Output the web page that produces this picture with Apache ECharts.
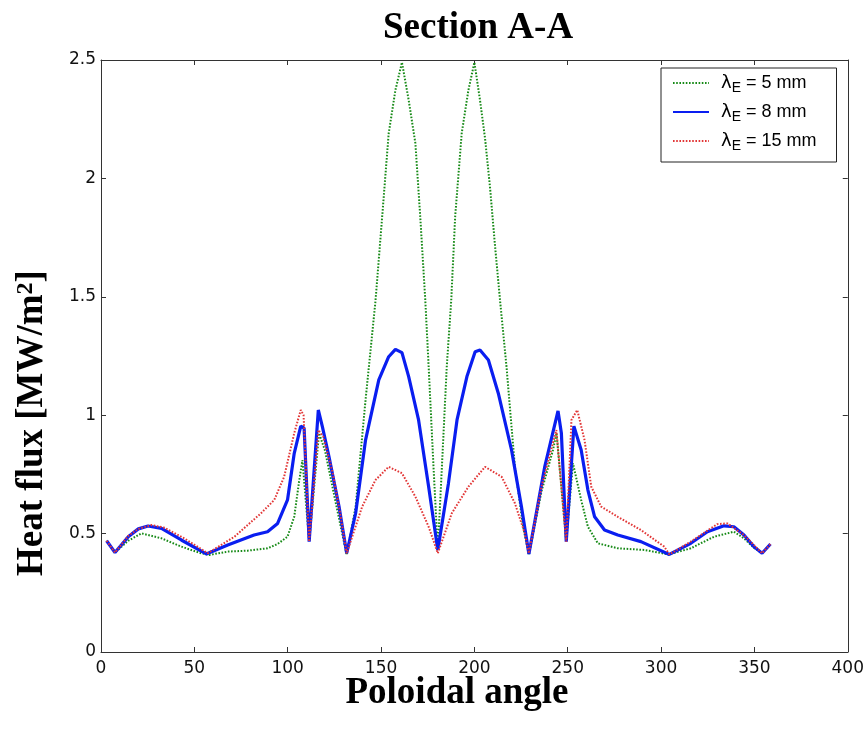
<!DOCTYPE html>
<html>
<head>
<meta charset="utf-8">
<script src="https://cdn.jsdelivr.net/npm/echarts@6/dist/echarts.min.js"></script>
<style>
html,body{margin:0;padding:0;background:#fff;}
#chart{width:867px;height:734px;}
</style>
</head>
<body>
<div id="chart"></div>
<script>
// ---- data ----
const seriesNames = ['λE = 5 mm', 'λE = 8 mm', 'λE = 15 mm'];
const legendTails = [' = 5 mm', ' = 8 mm', ' = 15 mm'];
const xTicks = [0, 50, 100, 150, 200, 250, 300, 350, 400];
const yTicks = [0, 0.5, 1, 1.5, 2, 2.5];

// lambda_E = 5 mm (green dotted)
const angle5 = [3, 7.5, 14.6, 21.7, 32.4, 43, 53.7, 58, 67.9, 78.6, 89.2, 94.6, 99.9, 103.5, 106.1, 107.9, 111.5, 116.8, 120, 126, 131.6, 136.4, 141.7, 147, 150.6, 154.1, 157.7, 161.2, 164.8, 168.4, 171, 173.7, 175.5, 178.1, 180.4, 182.6, 185.2, 187.6, 189.7, 193.2, 196.8, 200, 203, 205.7, 208.4, 211, 213.8, 217.2, 221.7, 226.1, 229.2, 236, 242.1, 244, 249.2, 252.8, 257.2, 260.8, 266.1, 276.8, 291, 304, 315.9, 328.4, 339, 344.4, 349.7, 354.1, 358.6];
const flux5  = [0.47, 0.42, 0.47, 0.501, 0.48, 0.445, 0.417, 0.41, 0.424, 0.428, 0.438, 0.456, 0.487, 0.571, 0.72, 0.81, 0.466, 0.924, 0.85, 0.62, 0.41, 0.614, 1.064, 1.48, 1.838, 2.19, 2.373, 2.49, 2.331, 2.148, 1.838, 1.486, 1.205, 0.782, 0.43, 0.782, 1.205, 1.486, 1.838, 2.19, 2.373, 2.49, 2.331, 2.17, 1.96, 1.72, 1.48, 1.205, 0.782, 0.529, 0.41, 0.68, 0.853, 0.924, 0.466, 0.797, 0.642, 0.529, 0.459, 0.438, 0.431, 0.412, 0.438, 0.487, 0.508, 0.48, 0.44, 0.417, 0.456];

// lambda_E = 8 mm (blue solid)
const angle8 = [3, 7.5, 14.6, 20, 25.2, 32.4, 43, 56.4, 67.9, 82, 89.2, 94.6, 99.9, 103.5, 107, 108.8, 111.5, 116.4, 118.6, 122.1, 127.5, 131.6, 136.4, 141.7, 148.8, 154.1, 157.7, 161.2, 164.8, 170.1, 175.5, 180.4, 186.1, 190.7, 196, 200.4, 203, 207.5, 212.8, 219.9, 225.2, 229.2, 237.7, 244.8, 246.6, 249.2, 253.3, 257.2, 260.8, 264.4, 269.7, 276.8, 289.2, 304.4, 315.9, 324.8, 333.7, 339, 344.4, 349.7, 354.1, 358.6];
const flux8  = [0.47, 0.42, 0.487, 0.52, 0.532, 0.522, 0.473, 0.414, 0.452, 0.494, 0.508, 0.543, 0.642, 0.839, 0.954, 0.945, 0.466, 1.022, 0.951, 0.825, 0.614, 0.417, 0.586, 0.895, 1.149, 1.247, 1.278, 1.264, 1.163, 0.98, 0.698, 0.431, 0.712, 0.98, 1.163, 1.268, 1.275, 1.233, 1.093, 0.853, 0.614, 0.414, 0.783, 1.018, 0.924, 0.466, 0.954, 0.853, 0.684, 0.571, 0.515, 0.494, 0.466, 0.412, 0.459, 0.508, 0.533, 0.529, 0.494, 0.445, 0.417, 0.456];

// lambda_E = 15 mm (red dotted)
const angle15 = [3, 7.5, 14.6, 20, 27, 34, 45, 57.2, 71.5, 85.7, 92.8, 98.1, 103.5, 107, 108.5, 111.5, 116.4, 119, 124, 128, 131.6, 139.9, 147, 154.1, 161.2, 168.4, 175.5, 180.4, 187.9, 196.8, 205.7, 214.6, 221.7, 227, 229.2, 236, 243.9, 249.2, 252, 255.1, 259, 262.6, 267.9, 276.8, 289.2, 301.7, 304.4, 315.9, 330.1, 335.5, 344.4, 354.1, 358.6];
const flux15  = [0.47, 0.42, 0.49, 0.52, 0.536, 0.525, 0.478, 0.417, 0.487, 0.586, 0.642, 0.74, 0.924, 1.022, 1.0, 0.466, 0.937, 0.91, 0.76, 0.59, 0.417, 0.614, 0.726, 0.782, 0.755, 0.656, 0.529, 0.417, 0.586, 0.698, 0.782, 0.74, 0.628, 0.501, 0.417, 0.7, 0.937, 0.466, 0.98, 1.022, 0.895, 0.698, 0.614, 0.571, 0.515, 0.445, 0.412, 0.466, 0.54, 0.543, 0.494, 0.417, 0.456];

const zip = (a, b) => a.map((x, i) => [x, b[i]]);

const chart = echarts.init(document.getElementById('chart'), null, {renderer: 'canvas'});
const frame = '#333';
const tickFont = {fontFamily: 'DejaVu Sans', fontSize: 17, color: '#111'};

const baseX = {
  type: 'value', min: xTicks[0], max: xTicks[xTicks.length - 1], interval: 50,
  axisLine: {show: true, onZero: false, lineStyle: {color: frame, width: 1}},
  axisTick: {show: true, inside: true, length: 5, lineStyle: {color: frame}},
  splitLine: {show: false}
};
const baseY = {
  type: 'value', min: yTicks[0], max: yTicks[yTicks.length - 1], interval: 0.5,
  axisLine: {show: true, onZero: false, lineStyle: {color: frame, width: 1}},
  axisTick: {show: true, inside: true, length: 5, lineStyle: {color: frame}},
  splitLine: {show: false}
};

const greenCol = '#178a17';
const blueCol = '#0a1ef0';
const redCol = '#e23636';
const dots = [1.6, 1.6];

chart.setOption({
  animation: false,
  backgroundColor: '#fff',
  title: {
    text: 'Section A-A', left: 378, top: 5,
    textStyle: {fontFamily: 'Liberation Serif', fontWeight: 'bold', fontSize: 37, color: '#000'}
  },
  grid: {left: 101, right: 16, top: 60, bottom: 82},
  xAxis: [
    Object.assign({}, baseX, {position: 'bottom', axisLabel: Object.assign({show: true, margin: 8}, tickFont)}),
    Object.assign({}, baseX, {position: 'top', axisLabel: {show: false}})
  ],
  yAxis: [
    Object.assign({}, baseY, {position: 'left', axisLabel: Object.assign({show: true, margin: 5}, tickFont)}),
    Object.assign({}, baseY, {position: 'right', axisLabel: {show: false}})
  ],
  legend: {
    orient: 'vertical', left: 661, top: 68,
    backgroundColor: '#fff', borderColor: '#222', borderWidth: 1, borderRadius: 0,
    padding: [6, 20, 9, 11], itemWidth: 36, itemHeight: 14, itemGap: 8,
    itemStyle: {opacity: 0},
    data: seriesNames,
    formatter: function (name) {
      const i = seriesNames.indexOf(name);
      return '{l|λ}{s|E}{t|' + legendTails[i] + '}';
    },
    textStyle: {
      color: '#000',
      rich: {
        l: {fontFamily: 'DejaVu Sans', fontSize: 18, lineHeight: 24, verticalAlign: 'middle', padding: [0, 0, 0, 7], color: '#000'},
        s: {fontFamily: 'Liberation Sans', fontSize: 14, lineHeight: 6, verticalAlign: 'bottom', color: '#000'},
        t: {fontFamily: 'Liberation Sans', fontSize: 18, lineHeight: 24, verticalAlign: 'middle', color: '#000'}
      }
    }
  },
  graphic: [
    {
      type: 'text', x: 457, y: 693,
      style: {text: 'Poloidal angle', fontFamily: 'Liberation Serif', fontWeight: 'bold', fontSize: 37, fill: '#000', align: 'center', verticalAlign: 'middle'}
    },
    {
      type: 'text', x: 32, y: 423, rotation: Math.PI / 2,
      style: {
        text: 'Heat flux [MW/m{sup|2}]', fontFamily: 'Liberation Serif', fontWeight: 'bold', fontSize: 37, fill: '#000',
        align: 'center', verticalAlign: 'middle',
        rich: {sup: {fontFamily: 'Liberation Serif', fontWeight: 'bold', fontSize: 24, verticalAlign: 'top', fill: '#000'}}
      }
    }
  ],
  series: [
    {
      name: seriesNames[0], type: 'line', symbol: 'none', showSymbol: false,
      data: zip(angle5, flux5),
      lineStyle: {color: greenCol, width: 2, type: dots, cap: 'butt'},
      itemStyle: {color: greenCol}, z: 2
    },
    {
      name: seriesNames[1], type: 'line', symbol: 'none', showSymbol: false,
      data: zip(angle8, flux8),
      lineStyle: {color: blueCol, width: 3.2, type: 'solid'},
      itemStyle: {color: blueCol}, z: 3
    },
    {
      name: seriesNames[2], type: 'line', symbol: 'none', showSymbol: false,
      data: zip(angle15, flux15),
      lineStyle: {color: redCol, width: 2, type: dots, cap: 'butt'},
      itemStyle: {color: redCol}, z: 4
    }
  ]
});
</script>
</body>
</html>
